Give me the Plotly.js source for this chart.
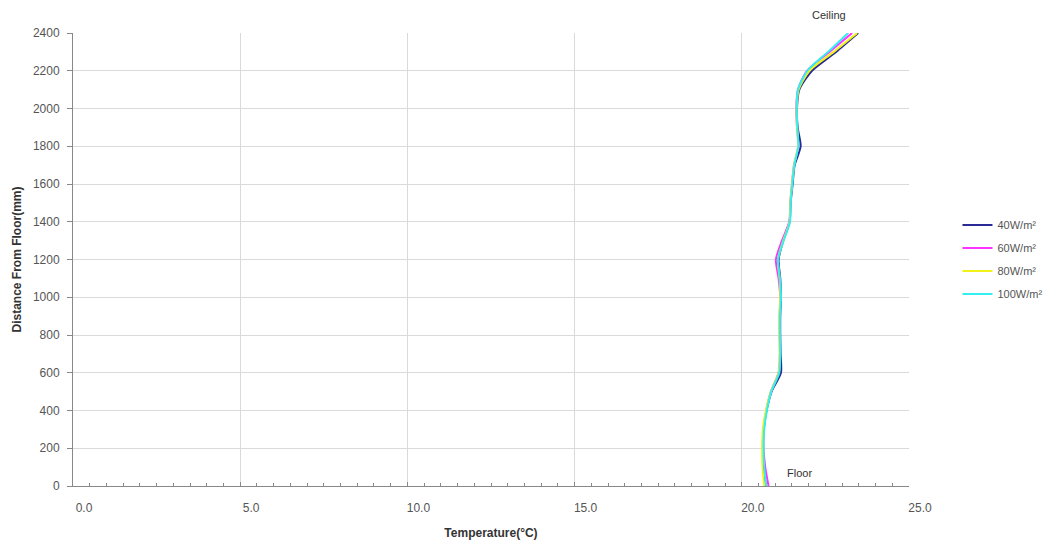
<!DOCTYPE html>
<html>
<head>
<meta charset="utf-8">
<script src="https://cdn.plot.ly/plotly-3.0.1.min.js"></script>
<style>html,body{margin:0;padding:0;background:#fff;}#chart{width:1050px;height:540px;}</style>
</head>
<body>
<div id="chart"></div>
<script>
const heights = [0,100,200,300,400,500,600,700,800,900,1000,1100,1200,1300,1400,1500,1600,1700,1800,1900,2000,2100,2200,2300,2400];
const seriesNames = ['40W/m²','60W/m²','80W/m²','100W/m²'];
const t40  = [20.72,20.66,20.63,20.65,20.74,20.89,21.17,21.16,21.15,21.15,21.17,21.15,21.10,21.24,21.43,21.46,21.52,21.58,21.76,21.67,21.65,21.72,22.10,22.82,23.48];
const t60  = [20.80,20.70,20.65,20.66,20.73,20.87,21.10,21.14,21.13,21.13,21.15,21.10,21.02,21.20,21.42,21.45,21.50,21.56,21.69,21.65,21.63,21.68,21.95,22.62,23.30];
const t80  = [20.67,20.62,20.61,20.63,20.72,20.87,21.10,21.13,21.12,21.12,21.15,21.13,21.08,21.24,21.43,21.45,21.50,21.56,21.68,21.65,21.64,21.70,22.02,22.75,23.45];
const t100 = [20.73,20.67,20.65,20.67,20.75,20.88,21.12,21.15,21.14,21.14,21.17,21.14,21.08,21.25,21.44,21.46,21.51,21.57,21.69,21.66,21.64,21.68,21.96,22.58,23.18];
const xTickVals = [0,5,10,15,20,25];
const xTickText = ['0.0','5.0','10.0','15.0','20.0','25.0'];
const yTickVals = [0,200,400,600,800,1000,1200,1400,1600,1800,2000,2200,2400];

const colors = ['#2a2a96','#ff33ff','#f2f21a','#33f0f0'];
const data = [t40,t60,t80,t100].map((t,i)=>({
  x: t, y: heights, type:'scatter', mode:'lines',
  name: seriesNames[i], legendgroup: 'g'+i,
  line:{color:colors[i], width:2, shape:'spline', smoothing:0.7}
}));

const font = {family:'"Liberation Sans", Arial, sans-serif'};
const layout = {
  width:1050, height:540,
  margin:{l:73, r:141, t:33, b:54, autoexpand:false},
  paper_bgcolor:'#fff', plot_bgcolor:'#fff',
  font:{family:font.family, size:12, color:'#555'},
  showlegend:true,
  legend:{x:1.058, y:0.5, xanchor:'left', yanchor:'middle', font:{size:11, color:'#555'},
          traceorder:'grouped', tracegroupgap:4, itemwidth:30, bgcolor:'rgba(0,0,0,0)'},
  xaxis:{range:[0,25], tickvals:xTickVals, ticktext:xTickText, showgrid:true, gridcolor:'#dadada', gridwidth:1,
         zeroline:false, showline:true, linecolor:'#888', linewidth:1,
         ticks:'inside', ticklen:4, tickcolor:'#888', ticklabelshift:11, ticklabelstandoff:11,
         minor:{dtick:0.5, ticks:'inside', ticklen:3, tickcolor:'#888', showgrid:false},
         tickfont:{size:12, color:'#555'},
         title:{text:'<b>Temperature(°C)</b>', font:{size:12, color:'#333'}, standoff:16}},
  yaxis:{range:[0,2400], tickvals:yTickVals, showgrid:true, gridcolor:'#dadada', gridwidth:1,
         zeroline:false, showline:true, linecolor:'#888', linewidth:1,
         ticks:'outside', ticklen:5, tickcolor:'#888', ticklabelstandoff:5,
         tickfont:{size:12, color:'#555'},
         title:{text:'<b>Distance From Floor(mm)</b>', font:{size:12, color:'#333'}, standoff:8}},
  annotations:[
    {text:'Ceiling', x:22.6, xref:'x', y:1.058, yref:'paper', showarrow:false, font:{size:11, color:'#333'}},
    {text:'Floor', x:21.74, xref:'x', y:70, yref:'y', showarrow:false, font:{size:11, color:'#333'}}
  ]
};
Plotly.newPlot('chart', data, layout, {displayModeBar:false, staticPlot:true});
</script>
</body>
</html>
